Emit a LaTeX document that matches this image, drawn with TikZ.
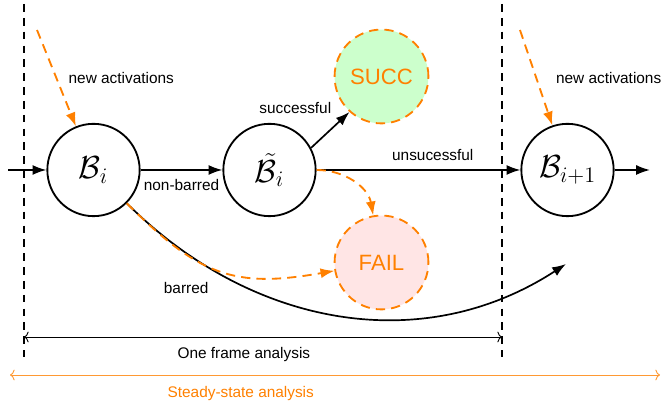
\documentclass[tikz,border=0pt]{standalone}
\usepackage{fontspec}
\setsansfont{Liberation Sans}
\usepackage{tikz}
\usetikzlibrary{arrows.meta,calc}
\tikzset{
  state/.style = {circle, draw, line width=1.2pt, minimum size=60pt, inner sep=6pt, font=\huge},
  outcome/.style = {circle, draw=orange, dash pattern=on 6pt off 4pt, line width=1.2pt, minimum size=61pt, text=orange, font=\sffamily\Large},
  trans/.style = {-{Latex[length=9pt,width=6.5pt]}, line width=1.1pt},
  flow/.style = {-{Latex[length=9pt,width=6.5pt]}, orange, line width=1.2pt, dash pattern=on 6pt off 4pt},
  frame/.style = {dash pattern=on 5pt off 4pt, line width=0.7pt},
  span/.style = {semithick, {To[length=3pt,width=7pt]}-{To[length=3pt,width=7pt]}},
  lbl/.style = {font=\sffamily, text=black}
}
\begin{document}
\begin{tikzpicture}[x=0.65pt, y=0.65pt]
\useasboundingbox (0,0) rectangle (671,401);

% frame borders
\draw[frame] (24,397) -- (24,44);
\draw[frame] (502,397) -- (502,44);

% states
\node[state] (bi) at (93.5,231) {$\mathcal{B}_i$};
\node[state] (bt) at (269.5,231) {$\tilde{\mathcal{B}}_i$};
\node[state] (bn) at (567.5,231) {$\mathcal{B}_{i+1}$};
\node[outcome, fill=green!20] (succ) at (381.5,324.5) {SUCC};
\node[outcome, fill=red!10] (fail) at (381.5,138.5) {FAIL};

\coordinate (in) at (8,231);
\coordinate (out) at (650,231);
\coordinate (src1) at (37,371);
\coordinate (src2) at (520,371);
\coordinate (tonext) at (566,137);

% transitions
\draw[trans] (in) -- (bi);
\draw[trans] (bi) -- node[lbl, below, yshift=-2pt] {non-barred} (bt);
\draw[trans] (bt) -- node[lbl, above, pos=0.57, yshift=2pt] {unsucessful} (bn);
\draw[trans] (bt.28) -- node[lbl, above left, xshift=4.5pt, yshift=6.5pt] {successful} (succ.228);
\draw[trans] (bn) -- (out);
\draw[trans] (bi.-45) to[out=-45, in=213, looseness=1.0]
  node[lbl, pos=0.3, left=22pt] {barred} (tonext);

% new activations
\draw[flow] (src1) -- node[lbl, right=4pt] {new activations} (bi);
\draw[flow] (src2) -- node[lbl, right=9pt] {new activations} (bn);
\draw[flow] (bt.east) to[out=0, in=100] (fail.100);
\draw[flow] (bi.-45) to[out=-45, in=190, looseness=1.2] (fail.190);

% analysis spans
\coordinate (fl) at (24,64);
\coordinate (fr) at (502,64);
\draw[span] (fl) -- node[lbl, below=3pt, pos=0.46] {One frame analysis} (fr);
\coordinate (sl) at (10,26);
\coordinate (sr) at (660,26);
\draw[span, orange!80] (sl) -- node[font=\sffamily, text=orange, below=4pt, pos=0.355] {Steady-state analysis} (sr);
\end{tikzpicture}
\end{document}
